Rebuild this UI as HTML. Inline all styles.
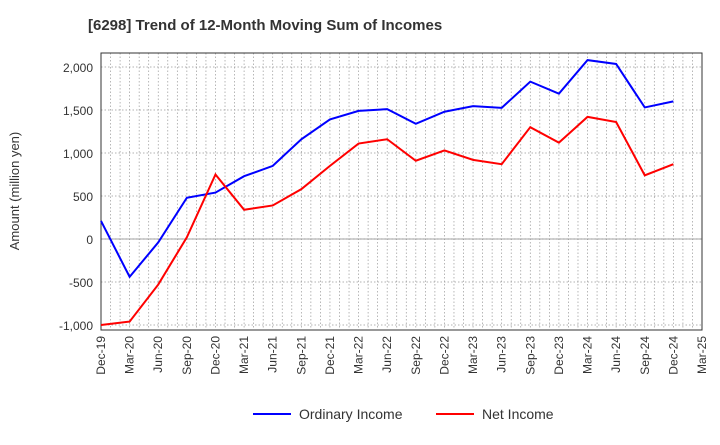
<!DOCTYPE html>
<html><head><meta charset="utf-8"><style>
body{margin:0;background:#fff;font-family:"Liberation Sans",sans-serif}
</style></head><body>
<svg id="c" width="720" height="440" xmlns="http://www.w3.org/2000/svg"></svg>
<script>
const categories=["Dec-19","Mar-20","Jun-20","Sep-20","Dec-20","Mar-21","Jun-21","Sep-21","Dec-21","Mar-22","Jun-22","Sep-22","Dec-22","Mar-23","Jun-23","Sep-23","Dec-23","Mar-24","Jun-24","Sep-24","Dec-24","Mar-25"];
const ordinaryIncome=[210,-440,-40,480,540,730,850,1160,1390,1490,1510,1340,1480,1545,1525,1830,1690,2080,2035,1530,1600];
const netIncome=[-1000,-960,-530,20,750,340,390,580,850,1110,1160,910,1030,920,870,1300,1120,1420,1360,740,870];
const yTicks=[-1000,-500,0,500,1000,1500,2000];
const yTickLabels=["-1,000","-500","0","500","1,000","1,500","2,000"];
const svg=document.getElementById('c');const NS="http://www.w3.org/2000/svg";
const L=101,R=702,T=53,B=330;
const xs=i=>L+i*(R-L)/(categories.length-1);
const ys=v=>239-v*43/500;
function mk(t,a,p){const e=document.createElementNS(NS,t);for(const k in a)e.setAttribute(k,a[k]);(p||svg).appendChild(e);return e;}
let e=mk('text',{x:88,y:30,'font-size':15,'font-weight':'bold',fill:'#333'});e.textContent="[6298]  Trend of 12-Month Moving Sum of Incomes";

const grid=mk('g',{});
for(let m=1;m<(categories.length-1)*3;m++){const x=L+m*(R-L)/((categories.length-1)*3);mk('line',{x1:x,x2:x,y1:T,y2:B,stroke:'#999','stroke-width':0.7,'stroke-dasharray':'1.5,2'},grid);}
yTicks.forEach((v,i)=>{const y=ys(v);mk('line',{x1:L,x2:R,y1:y,y2:y,stroke:'#999','stroke-width':0.7,'stroke-dasharray':'1.5,2'},grid);
 const t=mk('text',{x:L-8,y:y+5,'font-size':12,'text-anchor':'end',fill:'#333'});t.textContent=yTickLabels[i];
 });
mk('line',{x1:L,x2:R,y1:ys(0),y2:ys(0),stroke:'#888','stroke-width':0.8},grid);
e=mk('rect',{x:L,y:T,width:R-L,height:B-T,fill:'none',stroke:'#333','stroke-width':1});

categories.forEach((c,i)=>{const x=xs(i);const t=mk('text',{x:x+4,y:B+6,'font-size':12,'text-anchor':'end',fill:'#333',transform:`rotate(-90 ${x+4} ${B+6})`});t.textContent=c;
 });
e=mk('text',{x:19,y:191,'font-size':13,'text-anchor':'middle',fill:'#333',transform:'rotate(-90 19 191)'});e.textContent="Amount (million yen)";

function line(d,col,name){const p=mk('polyline',{points:d.map((v,i)=>xs(i)+','+ys(v)).join(' '),fill:'none',stroke:col,'stroke-width':2});
 }
line(ordinaryIncome,'#0000ff','ordinary-income-line');
line(netIncome,'#ff0000','net-income-line');
function leg(x,col,label,name){const g=mk('g',{});
 mk('line',{x1:x,x2:x+38,y1:414,y2:414,stroke:col,'stroke-width':2},g);
 const t=mk('text',{x:x+46,y:419,'font-size':14,fill:'#333'},g);t.textContent=label;}
leg(253,'#0000ff','Ordinary Income','legend-ordinary-income');
leg(436,'#ff0000','Net Income','legend-net-income');
</script>
</body></html>
